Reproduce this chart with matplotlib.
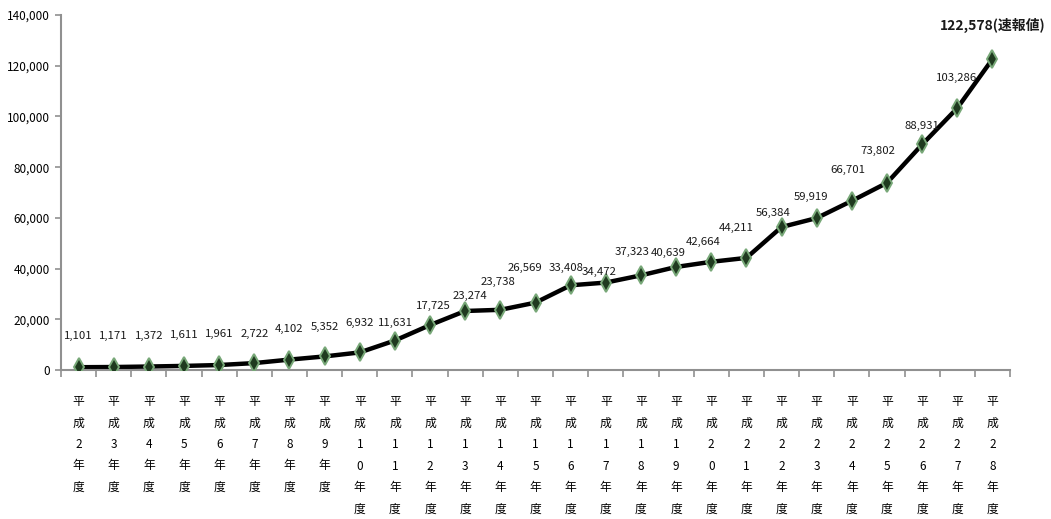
import matplotlib.pyplot as plt
from matplotlib.ticker import FuncFormatter, FixedLocator

plt.rcParams['font.family'] = ['Noto Sans CJK JP', 'DejaVu Sans']

years = list(range(2, 29))
counts = [1101, 1171, 1372, 1611, 1961, 2722, 4102, 5352, 6932, 11631,
          17725, 23274, 23738, 26569, 33408, 34472, 37323, 40639, 42664,
          44211, 56384, 59919, 66701, 73802, 88931, 103286, 122578]
last_note = '(速報値)'

labels = ['\n'.join('平成' + str(y) + '年度') for y in years]

# hand placed label offsets (pixels) as in the original sheet
label_dx = [0, 0, 0, 0, 0, 0, 0, 0, 0, 1, 3, 5, -2, -11, -5, -7, -9, -8,
            -8, -10, -8, -6, -4, -9, 0, -1, 0]
label_dy = [31, 31, 31, 31, 31, 29, 31, 29, 29, 18, 19, 15, 28, 35, 17, 11,
            23, 14, 20, 30, 14, 21, 31, 32, 19, 30, 34]

fig = plt.figure(figsize=(10.51, 5.19), dpi=100)
ax = fig.add_axes([61 / 1051, 1 - 370 / 519, 949 / 1051, 355 / 519])

xs = list(range(len(counts)))
ax.plot(xs, counts, color='black', linewidth=3.2, zorder=2)
ax.plot(xs, counts, linestyle='none', marker='d', markersize=9,
        markerfacecolor='#1f3a1f', markeredgecolor='#78a878',
        markeredgewidth=1.4, zorder=3)

for i, v in enumerate(counts):
    txt = f'{v:,}'
    fs, fw = 8.2, 'normal'
    if i == len(counts) - 1:
        txt += last_note
        fs, fw = 10, 'bold'
    ax.annotate(txt, (i, v), xytext=(label_dx[i], label_dy[i]),
                textcoords='offset pixels', ha='center', va='center',
                fontsize=fs, fontweight=fw, color='#1a1a1a')

ax.set_xlim(-0.5, len(counts) - 0.5)
ax.set_ylim(0, 140000)
ax.set_yticks(range(0, 140001, 20000))
ax.yaxis.set_major_formatter(FuncFormatter(lambda v, p: f'{int(v):,}'))

ax.set_xticks(xs)
ax.set_xticklabels(labels, fontsize=8.5, linespacing=1.85, va='top')
ax.xaxis.set_minor_locator(FixedLocator([i - 0.5 for i in range(len(counts) + 1)]))
ax.tick_params(axis='x', which='major', length=0, pad=18)
ax.tick_params(axis='x', which='minor', length=5, width=1.2, color='#909090')
ax.tick_params(axis='y', length=4, width=1.2, color='#909090', labelsize=8.5,
               pad=4)

for s in ['top', 'right']:
    ax.spines[s].set_visible(False)
for s in ['left', 'bottom']:
    ax.spines[s].set_color('#909090')
    ax.spines[s].set_linewidth(1.5)

fig.savefig('out.png', dpi=100)
